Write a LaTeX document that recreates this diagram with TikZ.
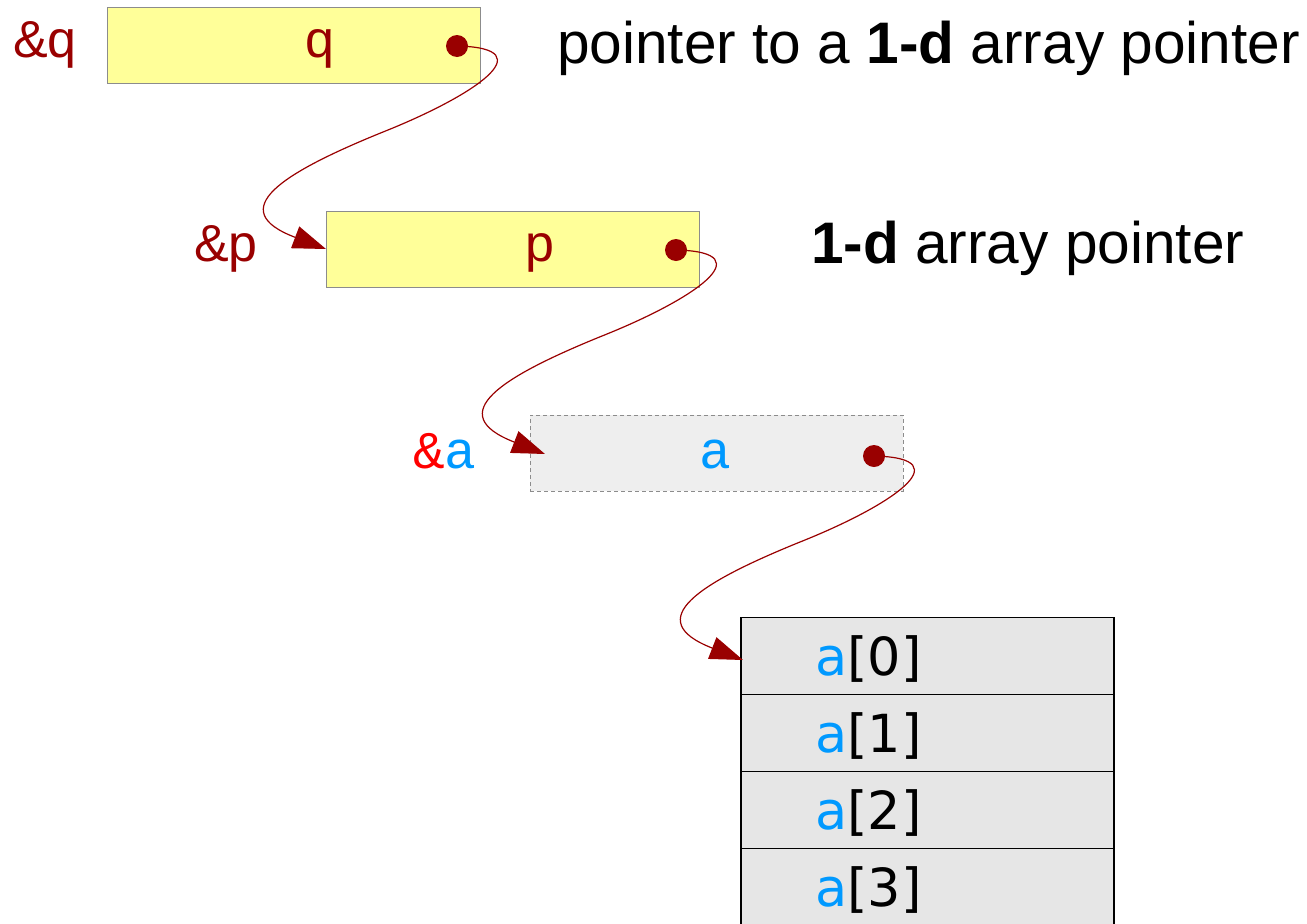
\documentclass[tikz,border=0pt]{standalone}
\usepackage{fontspec}
\setmainfont{Liberation Sans}
\newfontfamily\monofont{Liberation Mono}
\newfontfamily\dvfont{DejaVu Sans}
\usetikzlibrary{arrows.meta,calc}
\definecolor{dred}{HTML}{990000}
\definecolor{pyellow}{HTML}{FFFF99}
\definecolor{bgray}{HTML}{8C8C8C}
\definecolor{afill}{HTML}{EEEEEE}
\definecolor{cellfill}{HTML}{E6E6E6}
\definecolor{ablue}{HTML}{0099FF}
\definecolor{ared}{HTML}{FF0000}
\newcommand\ptrcurve[2]{%
  \draw[conn] (#1.center) .. controls ($(#1)+(90,2)$) and ($(#1)+(14,51)$) ..
    ($(#1)+(-74,86)$) .. controls ($(#1)+(-175,127)$) and ($(#1)+(-234,164)$) .. #2;}
\begin{document}
\begin{tikzpicture}[x=1pt,y=-1pt,
  ptrbox/.style={draw=bgray,line width=1pt,fill=pyellow,inner sep=0pt,outer sep=0pt,minimum width=373pt,minimum height=76pt},
  varbox/.style={draw=bgray,line width=1pt,dash pattern=on 4pt off 3pt,fill=afill,inner sep=0pt,outer sep=0pt,minimum width=373pt,minimum height=76pt},
  cell/.style={draw=black,line width=1.2pt,fill=cellfill,inner sep=0pt,outer sep=0pt,minimum width=373pt,minimum height=77pt},
  dot/.style={circle,fill=dred,inner sep=0pt,minimum size=22pt},
  lbl/.style={text=dred,font=\fontsize{52}{60}\selectfont,inner sep=0pt},
  mlbl/.style={font=\monofont\fontsize{53}{60}\selectfont,inner sep=0pt},
  celltxt/.style={font=\dvfont\fontsize{52.5}{60}\selectfont,inner sep=0pt,anchor=base west},
  title/.style={font=\fontsize{58.6}{64}\selectfont,inner sep=0pt,anchor=base west},
  conn/.style={draw=dred,line width=1.2pt,-{Triangle[length=33pt,width=23pt]}}]
\useasboundingbox (0,0) rectangle (1307,924);
% boxes
\node[ptrbox] (qbox) at (293.5,45) {};
\node[ptrbox] (pbox) at (512.5,249) {};
\node[varbox] (abox) at (716.5,453) {};
\node[cell] (c0) at (927.5,656) {};
\node[cell] (c1) at (927.5,733) {};
\node[cell] (c2) at (927.5,810) {};
\node[cell] (c3) at (927.5,887) {};
% box texts
\node[lbl,anchor=base] (qtxt) at (320,57) {q};
\node[lbl,anchor=base] (ptxt) at (540,261) {p};
\node[mlbl,anchor=base,text=ablue] (atxt) at (715,468) {a};
\node[lbl,anchor=base east] (qaddr) at (77,57) {\&q};
\node[lbl,anchor=base east] (paddr) at (258,261) {\&p};
\node[mlbl,anchor=base east] (aaddr) at (477,468) {\textcolor{ared}{\&}\textcolor{ablue}{a}};
\node[celltxt] (t0) at (815,675) {\textcolor{ablue}{a}[0]};
\node[celltxt] (t1) at (815,752) {\textcolor{ablue}{a}[1]};
\node[celltxt] (t2) at (815,829) {\textcolor{ablue}{a}[2]};
\node[celltxt] (t3) at (815,906) {\textcolor{ablue}{a}[3]};
% titles
\node[title] (title1) at (557,63) {pointer to a \textbf{1-d} array pointer};
\node[title] (title2) at (811,263) {\textbf{1-d} array pointer};
% dots
\node[dot] (qdot) at (457,46) {};
\node[dot] (pdot) at (676,250) {};
\node[dot] (adot) at (874,456) {};
% connectors
\ptrcurve{qdot}{(pbox.west)}
\ptrcurve{pdot}{($(abox.west)+(15,1)$)}
\ptrcurve{adot}{($(c0.west)+(2,4)$)}
\end{tikzpicture}
\end{document}
